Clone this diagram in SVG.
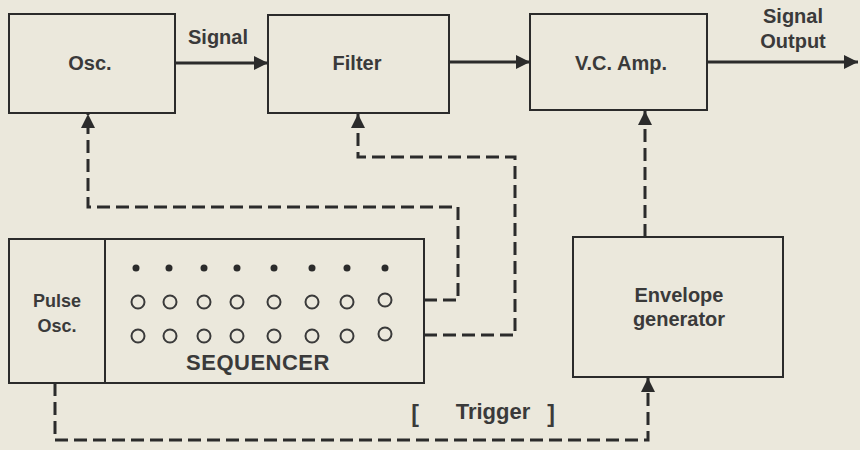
<svg xmlns="http://www.w3.org/2000/svg" width="860" height="450" viewBox="0 0 860 450">
  <defs>
    <marker id="arrow" markerUnits="userSpaceOnUse" markerWidth="16" markerHeight="14" refX="14" refY="7" orient="auto">
      <path d="M0,0 L14,7 L0,14 Z" fill="#2b2b2b"/>
    </marker>
    <style>
      .box { fill: none; stroke: #2b2b2b; stroke-width: 2; }
      .sig { fill: none; stroke: #2b2b2b; stroke-width: 3; }
      .ctl { fill: none; stroke: #2b2b2b; stroke-width: 3; stroke-dasharray: 13 6; }
      .lbl { font-family: "Liberation Sans", Arial, sans-serif; font-weight: bold; font-size: 20px; fill: #3a3a3a; text-anchor: middle; }
      .dot { fill: #2b2b2b; }
      .ring { fill: none; stroke: #3a3a3a; stroke-width: 2; }
    </style>
  </defs>
  <rect x="0" y="0" width="860" height="450" fill="#ebe8dc"/>

  <g id="osc">
    <rect class="box" x="9" y="14" width="166" height="99"/>
    <text class="lbl" x="90" y="70">Osc.</text>
  </g>
  <g id="filter">
    <rect class="box" x="268" y="15" width="181" height="98"/>
    <text class="lbl" x="357" y="70">Filter</text>
  </g>
  <g id="vca">
    <rect class="box" x="530" y="14" width="177" height="96"/>
    <text class="lbl" x="621" y="70">V.C. Amp.</text>
  </g>
  <g id="sequencer">
    <rect class="box" x="9" y="239" width="415" height="144"/>
    <line class="box" x1="105" y1="239" x2="105" y2="383"/>
    <text class="lbl" x="57" y="307" style="font-size:18px">Pulse</text>
    <text class="lbl" x="57" y="332" style="font-size:18px">Osc.</text>
    <g>
      <circle class="dot" cx="136" cy="268" r="3.5"/>
      <circle class="dot" cx="169" cy="268" r="3.5"/>
      <circle class="dot" cx="204" cy="268" r="3.5"/>
      <circle class="dot" cx="237" cy="268" r="3.5"/>
      <circle class="dot" cx="274" cy="268" r="3.5"/>
      <circle class="dot" cx="312" cy="268" r="3.5"/>
      <circle class="dot" cx="347" cy="268" r="3.5"/>
      <circle class="dot" cx="385" cy="268" r="3.5"/>
    </g>
    <g>
      <circle class="ring" cx="138" cy="302" r="6.5"/>
      <circle class="ring" cx="170" cy="302" r="6.5"/>
      <circle class="ring" cx="204" cy="302" r="6.5"/>
      <circle class="ring" cx="237" cy="302" r="6.5"/>
      <circle class="ring" cx="274" cy="302" r="6.5"/>
      <circle class="ring" cx="312" cy="302" r="6.5"/>
      <circle class="ring" cx="347" cy="302" r="6.5"/>
      <circle class="ring" cx="385" cy="300" r="6.5"/>
    </g>
    <g>
      <circle class="ring" cx="138" cy="336" r="6.5"/>
      <circle class="ring" cx="170" cy="336" r="6.5"/>
      <circle class="ring" cx="204" cy="336" r="6.5"/>
      <circle class="ring" cx="237" cy="336" r="6.5"/>
      <circle class="ring" cx="274" cy="336" r="6.5"/>
      <circle class="ring" cx="312" cy="336" r="6.5"/>
      <circle class="ring" cx="347" cy="336" r="6.5"/>
      <circle class="ring" cx="385" cy="334" r="6.5"/>
    </g>
    <text class="lbl" x="258" y="370" style="font-size:22px;letter-spacing:0.5px">SEQUENCER</text>
  </g>
  <g id="envelope">
    <rect class="box" x="573" y="237" width="210" height="140"/>
    <text class="lbl" x="679" y="302">Envelope</text>
    <text class="lbl" x="679" y="326">generator</text>
  </g>

  <g id="connectors">
    <path class="sig" d="M175,63 L268,63" marker-end="url(#arrow)"/>
    <path class="sig" d="M449,62 L530,62" marker-end="url(#arrow)"/>
    <path class="sig" d="M707,62 L858,62" marker-end="url(#arrow)"/>
    <path class="ctl" d="M424,300 L458,300 L458,207 L88,207 L88,114" marker-end="url(#arrow)"/>
    <path class="ctl" d="M424,335 L515,335 L515,157 L358,157 L358,114" marker-end="url(#arrow)"/>
    <path class="ctl" d="M645,237 L645,111" marker-end="url(#arrow)"/>
    <path class="ctl" d="M55,383 L55,440 L648,440 L648,378" marker-end="url(#arrow)"/>
  </g>

  <g id="labels">
    <text class="lbl" x="218" y="44">Signal</text>
    <text class="lbl" x="793" y="23">Signal</text>
    <text class="lbl" x="793" y="48">Output</text>
    <text class="lbl" x="415" y="422" style="font-size:23px">[</text>
    <text class="lbl" x="493" y="419" style="font-size:22px">Trigger</text>
    <text class="lbl" x="551" y="422" style="font-size:23px">]</text>
  </g>
</svg>
